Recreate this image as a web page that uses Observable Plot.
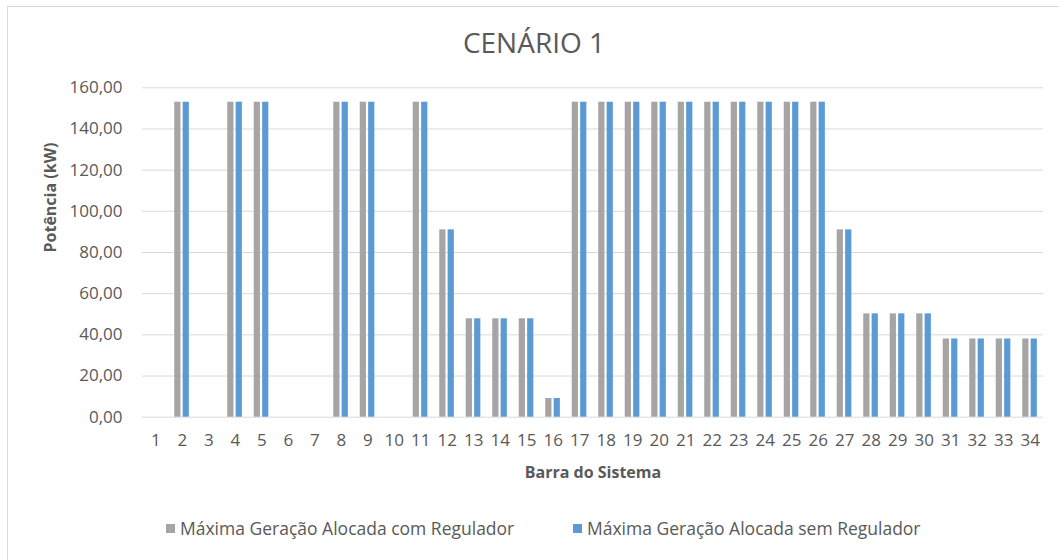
<!DOCTYPE html>
<html>
<head>
<meta charset="utf-8">
<script src="https://cdn.jsdelivr.net/npm/d3@7"></script>
<script src="https://cdn.jsdelivr.net/npm/@observablehq/plot@0.6"></script>
<style>
  html, body { margin: 0; padding: 0; background: #fff; overflow: hidden; }
  body { font-family: "Open Sans", sans-serif; color: #595959; }
  #wrap { position: relative; width: 1059px; height: 560px; overflow: hidden; }
  #frame { position: absolute; left: 7px; top: 6px; width: 1200px; height: 700px; border-left: 1px solid #d9d9d9; border-top: 1px solid #d9d9d9; pointer-events: none; }
  #title { height: 70px; width: 1059px; box-sizing: border-box; padding-left: 9px; padding-top: 23px; text-align: center; font-size: 28px; line-height: 38px; color: #595959; }
  #chart svg { display: block; }
  #legend { position: relative; height: 65px; width: 1059px; font-size: 17.5px; color: #595959; }
  .item { position: absolute; top: 21px; display: flex; align-items: center; line-height: 24px; white-space: nowrap; }
  .sw { width: 9px; height: 9px; margin-right: 5px; }
</style>
</head>
<body>
<div id="wrap">
  <div id="frame"></div>
  <div id="title">CENÁRIO 1</div>
  <div id="chart"></div>
  <div id="legend"></div>
</div>
<script>
const buses = d3.range(1, 35).map(String);
const comRegulador = [0, 153, 0, 153, 153, 0, 0, 153, 153, 0, 153, 91, 47.8, 47.8, 47.8, 9.1,
  153, 153, 153, 153, 153, 153, 153, 153, 153, 153, 91, 50.2, 50.2, 50.2, 38, 38, 38, 38];
const semRegulador = [0, 153, 0, 153, 153, 0, 0, 153, 153, 0, 153, 91, 47.8, 47.8, 47.8, 9.1,
  153, 153, 153, 153, 153, 153, 153, 153, 153, 153, 91, 50.2, 50.2, 50.2, 38, 38, 38, 38];
const seriesNames = ["Máxima Geração Alocada com Regulador", "Máxima Geração Alocada sem Regulador"];
const seriesColors = ["#A7A5A4", "#5B9BD5"];
const yTicks = [0, 20, 40, 60, 80, 100, 120, 140, 160];
const xTitle = "Barra do Sistema";
const yTitle = "Potência (kW)";

const rowsCom = buses.map((b, i) => ({bus: b, value: comRegulador[i]})).filter(d => d.value > 0);
const rowsSem = buses.map((b, i) => ({bus: b, value: semRegulador[i]})).filter(d => d.value > 0);
const fmt = v => d3.format(".2f")(v).replace(".", ",");

const ext = 10.15; // the band range extends slightly past the gridlines
const chart = Plot.plot({
  width: 1059,
  height: 425,
  marginTop: 17.3,
  marginBottom: 78.3,
  marginLeft: 142 - ext,
  marginRight: 16 - ext,
  style: {fontFamily: "Open Sans", fontSize: "17px", color: "#595959", background: "transparent"},
  x: {type: "band", domain: buses, padding: 0.766, align: 0.5, round: false,
      tickSize: 0, tickPadding: 17, label: null},
  y: {domain: [0, 160], ticks: 8, tickFormat: fmt, tickSize: 0, tickPadding: 20 - ext, label: null},
  marks: [
    Plot.ruleY(yTicks, {stroke: "#d9d9d9", strokeWidth: 1, insetLeft: ext, insetRight: ext}),
    Plot.barY(rowsCom, {x: "bus", y: "value", fill: seriesColors[0], dx: -4.4}),
    Plot.barY(rowsSem, {x: "bus", y: "value", fill: seriesColors[1], dx: 4.0}),
    Plot.text([yTitle], {frameAnchor: "left", dx: -92 + ext, rotate: -90, fontWeight: "bold", fontSize: 16, fill: "#595959"}),
    Plot.text([xTitle], {frameAnchor: "bottom", dy: 61, fontWeight: "bold", fontSize: 16, fill: "#595959"})
  ]
});
document.getElementById("chart").appendChild(chart);

const legend = document.getElementById("legend");
const lefts = [166, 573];
seriesNames.forEach((n, i) => {
  const it = document.createElement("div");
  it.className = "item";
  it.style.left = lefts[i] + "px";
  const sw = document.createElement("span");
  sw.className = "sw";
  sw.style.background = seriesColors[i];
  const tx = document.createElement("span");
  tx.textContent = n;
  it.appendChild(sw);
  it.appendChild(tx);
  legend.appendChild(it);
});
</script>
</body>
</html>
